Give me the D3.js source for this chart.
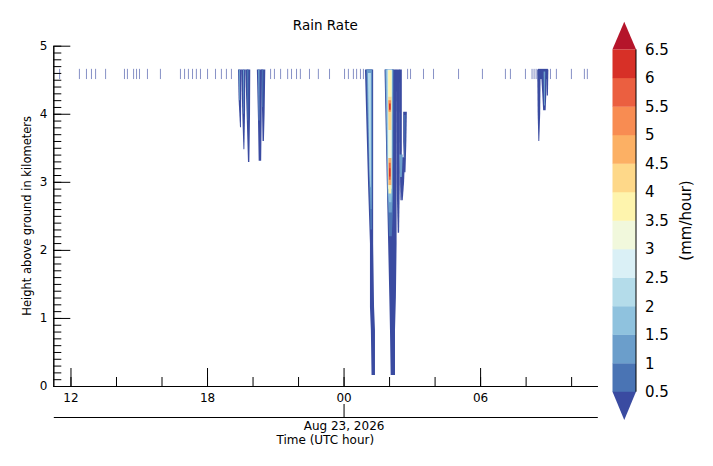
<!DOCTYPE html>
<html>
<head>
<meta charset="utf-8">
<script src="https://cdn.jsdelivr.net/npm/d3@7"></script>
<style>
  html, body { margin: 0; padding: 0; background: #fff; }
  svg { display: block; font-family: "DejaVu Sans", sans-serif; }
</style>
</head>
<body>
<svg id="chart" width="713" height="466"></svg>
<script>
// ---------------- DATA ----------------
// time in hours since 2026-08-22 00:00 UTC
const timeStart = 11.245;
const timeEnd = 35.15;
const heightTicks = [0, 1, 2, 3, 4, 5];
const levels = [0.5, 1, 1.5, 2, 2.5, 3, 3.5, 4, 4.5, 5, 5.5, 6, 6.5];
const levelColors = ["#3a4ba1", "#4a74b4", "#6b9ecb", "#8fc2de", "#b4dcea", "#daf0f6",
  "#f1f8dc", "#fef4ad", "#fed889", "#fcb064", "#f88c52", "#eb5f40", "#d73027", "#b5152b"];

// brief echoes near the top of the profile: time (h)
const briefEchoTimes = [11.50, 12.37, 12.68, 12.90, 13.08, 13.52, 14.35, 14.48, 14.75, 14.88,
  15.01, 15.36, 15.93, 16.81, 16.99, 17.16, 17.34, 17.51, 17.69, 18.00, 18.35, 18.61, 18.83,
  19.05, 20.77, 20.94, 21.21, 21.52, 21.69, 21.91, 22.08, 22.48, 22.87, 23.36, 24.02, 24.19,
  24.41, 24.55, 24.72, 24.85, 26.79, 26.92, 27.49, 27.93, 29.03, 30.08, 31.09, 31.31, 31.97,
  32.26, 32.35, 32.44, 33.07, 33.33, 33.99, 34.56, 34.69];
const briefEchoTop = 4.66;
const briefEchoBase = 4.51;
const briefEchoRate = 0.3;

// rain shafts: rate (mm/h) and profile rows [height km, start h, end h]
const shafts = [
  // ~19:30 UTC
  { rate: 0.3, profile: [[4.65, 19.36, 19.51], [4.20, 19.39, 19.50], [3.80, 19.45, 19.49]] },
  { rate: 0.3, profile: [[4.65, 19.50, 19.68], [4.00, 19.55, 19.67], [3.48, 19.60, 19.64]] },
  { rate: 0.3, profile: [[4.65, 19.68, 19.90], [4.00, 19.74, 19.89], [3.29, 19.80, 19.86]] },
  { rate: 1.2, profile: [[4.65, 19.39, 19.45], [4.20, 19.41, 19.44]] },
  { rate: 1.2, profile: [[4.65, 19.58, 19.63], [4.00, 19.60, 19.62]] },
  { rate: 0.8, profile: [[4.65, 19.75, 19.82], [3.90, 19.78, 19.81]] },
  // ~20:20 UTC
  { rate: 0.3, profile: [[4.65, 20.19, 20.41], [3.90, 20.24, 20.40], [3.31, 20.27, 20.38]] },
  { rate: 0.3, profile: [[4.65, 20.38, 20.56], [4.00, 20.42, 20.53], [3.60, 20.44, 20.50]] },
  { rate: 1.2, profile: [[4.65, 20.24, 20.31], [3.90, 20.27, 20.30]] },
  { rate: 0.8, profile: [[4.65, 20.42, 20.47], [4.10, 20.43, 20.46]] },
  // ~01:10 UTC
  { rate: 0.3, profile: [[4.65, 24.94, 25.30], [2.92, 25.08, 25.30], [2.09, 25.16, 25.30], [1.16, 25.16, 25.34], [0.82, 25.20, 25.38], [0.16, 25.23, 25.38]] },
  { rate: 0.8, profile: [[4.65, 25.00, 25.26], [2.92, 25.13, 25.26], [2.30, 25.18, 25.25]] },
  { rate: 1.2, profile: [[4.65, 25.02, 25.24], [2.92, 25.15, 25.24], [2.60, 25.19, 25.23]] },
  { rate: 2.2, profile: [[4.60, 25.07, 25.20], [3.20, 25.14, 25.20], [2.92, 25.17, 25.19]] },
  // ~02:00 UTC
  { rate: 0.3, profile: [[4.65, 25.80, 26.31], [3.00, 25.90, 26.33], [2.09, 25.96, 26.33], [1.31, 26.01, 26.30], [0.82, 26.04, 26.26], [0.16, 26.07, 26.26]] },
  { rate: 0.3, profile: [[4.65, 26.30, 26.48], [3.00, 26.33, 26.47], [2.25, 26.38, 26.44]] },
  { rate: 0.3, profile: [[4.65, 26.46, 26.56], [3.50, 26.47, 26.56], [2.73, 26.50, 26.54]] },
  { rate: 0.3, profile: [[4.03, 26.62, 26.78], [3.60, 26.62, 26.76], [3.14, 26.66, 26.72]] },
  { rate: 0.3, profile: [[3.36, 26.48, 26.70], [3.00, 26.50, 26.66], [2.73, 26.54, 26.60]] },
  { rate: 0.8, profile: [[3.98, 26.66, 26.72], [3.35, 26.68, 26.70]] },
  { rate: 1.3, profile: [[3.40, 26.45, 26.60], [3.07, 26.48, 26.56]] },
  { rate: 0.8, profile: [[4.65, 25.83, 26.20], [2.60, 25.95, 26.17], [2.20, 26.00, 26.12]] },
  { rate: 1.3, profile: [[4.65, 25.84, 26.17], [2.80, 25.94, 26.15], [2.55, 25.99, 26.12]] },
  { rate: 1.8, profile: [[4.65, 25.87, 26.14], [2.85, 25.95, 26.13], [2.70, 26.00, 26.10]] },
  { rate: 2.7, profile: [[4.65, 25.93, 26.12], [2.90, 25.96, 26.11]] },
  { rate: 3.7, profile: [[4.64, 25.96, 26.11], [4.25, 25.96, 26.11]] },
  { rate: 4.3, profile: [[4.25, 25.96, 26.11], [3.76, 25.97, 26.10]] },
  { rate: 5.3, profile: [[4.20, 25.97, 26.09], [4.03, 25.98, 26.08]] },
  { rate: 6.2, profile: [[4.15, 26.00, 26.07], [4.06, 26.00, 26.07]] },
  { rate: 3.2, profile: [[3.76, 25.97, 26.10], [3.35, 25.97, 26.10]] },
  { rate: 4.7, profile: [[3.35, 25.97, 26.10], [2.95, 25.97, 26.10]] },
  { rate: 5.8, profile: [[3.28, 25.99, 26.07], [3.03, 25.99, 26.07]] },
  { rate: 6.3, profile: [[3.20, 26.00, 26.06], [3.08, 26.00, 26.06]] },
  { rate: 3.7, profile: [[2.95, 25.97, 26.10], [2.83, 25.98, 26.09]] },
  // ~08:40 UTC
  { rate: 0.3, profile: [[4.66, 32.54, 32.98], [4.51, 32.54, 32.98]] },
  { rate: 0.3, profile: [[4.65, 32.51, 32.66], [4.00, 32.53, 32.64], [3.60, 32.56, 32.60]] },
  { rate: 0.3, profile: [[4.65, 32.67, 32.93], [4.30, 32.73, 32.91], [4.05, 32.77, 32.88]] },
  { rate: 0.3, profile: [[4.65, 32.90, 33.00], [4.27, 32.93, 32.98]] },
  { rate: 1.2, profile: [[4.62, 32.79, 32.86], [4.12, 32.81, 32.85]] }
];

// ---------------- CHART ----------------
const t0 = Date.UTC(2026, 7, 22);
const toDate = h => new Date(t0 + h * 3600e3);

const svg = d3.select("#chart");
const pL = 53.3, pR = 597.3, pT = 45.7, pB = 386;

const x = d3.scaleUtc().domain([toDate(timeStart), toDate(timeEnd)]).range([pL, pR]);
const y = d3.scaleLinear().domain([0, 5]).range([pB, pT]);
const color = d3.scaleThreshold().domain(levels).range(levelColors);

const plot = svg.append("g");
const briefDur = 0.045;
plot.selectAll("rect.brief").data(briefEchoTimes).join("rect")
  .attr("class", "brief")
  .attr("x", d => x(toDate(d)))
  .attr("width", d => x(toDate(d + briefDur)) - x(toDate(d)))
  .attr("y", y(briefEchoTop))
  .attr("height", y(briefEchoBase) - y(briefEchoTop))
  .attr("fill", color(briefEchoRate))
  .attr("opacity", 0.6);

const shaftArea = d3.area()
  .y(d => y(d[0]))
  .x0(d => x(toDate(d[1])))
  .x1(d => x(toDate(d[2])));
plot.selectAll("path.shaft").data(shafts).join("path")
  .attr("class", "shaft")
  .attr("d", d => shaftArea(d.profile))
  .attr("fill", d => color(d.rate));

// axes
function styleAxis(g) {
  g.selectAll("path, line").attr("stroke", "#000").attr("stroke-width", 1);
  g.selectAll("text").attr("fill", "#000").attr("font-size", 12).attr("font-family", "DejaVu Sans");
}
svg.append("g").attr("transform", `translate(${pL},0)`)
  .call(d3.axisLeft(y).tickValues(d3.range(0, 50.5, 1).map(v => v / 10)).tickSizeInner(-8).tickSizeOuter(0).tickFormat(""))
  .call(styleAxis);
svg.append("g").attr("transform", `translate(${pL},0)`)
  .call(d3.axisLeft(y).tickValues(heightTicks).tickSizeInner(-17).tickSizeOuter(0).tickPadding(6).tickFormat(d3.format("d")))
  .call(styleAxis);
svg.append("g").attr("transform", `translate(0,${pB})`)
  .call(d3.axisBottom(x).ticks(d3.utcHour.every(2)).tickSizeInner(-9).tickSizeOuter(0).tickFormat(""))
  .call(styleAxis);
svg.append("g").attr("transform", `translate(0,${pB})`)
  .call(d3.axisBottom(x).ticks(d3.utcHour.every(6)).tickSizeInner(-18).tickSizeOuter(0).tickPadding(7).tickFormat(d3.utcFormat("%H")))
  .call(styleAxis);
const dateAxisY = 417;
svg.append("g").attr("transform", `translate(0,${dateAxisY})`)
  .call(d3.axisBottom(x).tickValues([toDate(24)]).tickSizeInner(-13).tickSizeOuter(0).tickPadding(4).tickFormat(d3.utcFormat("%b %d, %Y")))
  .call(styleAxis);

svg.append("text").attr("x", (pL + pR) / 2).attr("y", 443.5)
  .attr("text-anchor", "middle").attr("font-size", 12).text("Time (UTC hour)");
svg.append("text").attr("transform", `translate(31,${(pT + pB) / 2}) rotate(-90)`)
  .attr("text-anchor", "middle").attr("font-size", 11.5).text("Height above ground in kilometers");
svg.append("text").attr("x", (pL + pR) / 2).attr("y", 30)
  .attr("text-anchor", "middle").attr("font-size", 13.5).text("Rain Rate");

// colorbar
const cbL = 612.5, cbR = 636, cbTop = 49.3, cbBot = 391.7;
const yc = d3.scaleLinear().domain([levels[0], levels[levels.length - 1]]).range([cbBot, cbTop]);
const cb = svg.append("g");
cb.selectAll("rect").data(d3.pairs(levels)).join("rect")
  .attr("x", cbL).attr("width", cbR - cbL)
  .attr("y", d => yc(d[1])).attr("height", d => yc(d[0]) - yc(d[1]) + 0.3)
  .attr("fill", d => color((d[0] + d[1]) / 2));
const cx = (cbL + cbR) / 2;
cb.append("path").attr("d", `M${cbL},${cbTop}L${cx},21.7L${cbR},${cbTop}Z`).attr("fill", color(levels[levels.length - 1] + 1));
cb.append("path").attr("d", `M${cbL},${cbBot}L${cx},420L${cbR},${cbBot}Z`).attr("fill", color(levels[0] - 0.1));
cb.append("line").attr("x1", cbR).attr("x2", cbR).attr("y1", cbTop).attr("y2", cbBot).attr("stroke", "#000").attr("stroke-width", 1);
cb.selectAll("text.lv").data(levels).join("text")
  .attr("class", "lv")
  .attr("x", 645).attr("y", d => yc(d)).attr("dy", "0.36em")
  .attr("font-size", 15).text(d => String(Math.round(d * 10) / 10));
svg.append("text").attr("transform", `translate(691,${(cbTop + cbBot) / 2}) rotate(-90)`)
  .attr("text-anchor", "middle").attr("font-size", 15).text("(mm/hour)");
</script>
</body>
</html>
